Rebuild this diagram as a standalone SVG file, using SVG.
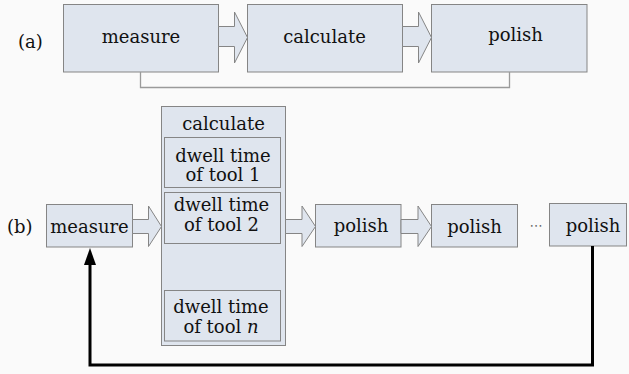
<svg xmlns="http://www.w3.org/2000/svg" width="629" height="374" viewBox="0 0 629 374">
<defs>
<style>
.box{fill:#dfe5ee;stroke:#858585;stroke-width:1}
.inner{fill:#dfe5ee;stroke:#858585;stroke-width:1}
.t{font-family:"DejaVu Serif","Liberation Serif",serif;font-size:18px;fill:#111;text-anchor:middle}
.lbl{font-family:"DejaVu Serif","Liberation Serif",serif;font-size:18px;fill:#111}
.blk{fill:#dfe5ee;stroke:#858585;stroke-width:1;stroke-linejoin:miter}
.br{fill:none;stroke:#9a9a9a;stroke-width:1.3}
.loop{fill:none;stroke:#000;stroke-width:3}
</style>
<marker id="ah" viewBox="0 0 17 12" markerWidth="17" markerHeight="12" refX="2" refY="6" orient="auto" markerUnits="userSpaceOnUse">
<path d="M0,0 L17,6 L0,12 z" fill="#000"/>
</marker>
</defs>
<rect x="0" y="0" width="629" height="374" fill="#fafafa"/>

<text class="lbl" x="18" y="48">(a)</text>
<text class="lbl" x="7" y="232.5">(b)</text>

<g id="a-measure">
<rect class="box" x="63.5" y="4.5" width="155" height="67.5"/>
<text class="t" x="141" y="42.5">measure</text>
</g>
<g id="a-calculate">
<rect class="box" x="247.5" y="4.5" width="155" height="67.5"/>
<text class="t" x="324.5" y="42.5">calculate</text>
</g>
<g id="a-polish">
<rect class="box" x="431.5" y="4.5" width="155.5" height="67.5"/>
<text class="t" x="515.5" y="40.5">polish</text>
</g>

<g id="b-measure">
<rect class="box" x="46.5" y="204.5" width="86" height="42.5"/>
<text class="t" x="89.5" y="232.5">measure</text>
</g>
<g id="b-calculate">
<rect class="box" x="161.5" y="106.5" width="124" height="239"/>
<text class="t" x="223.5" y="130">calculate</text>
<g id="tool1">
<rect class="inner" x="164.5" y="137.5" width="116" height="50"/>
<text class="t" x="223" y="161.5">dwell time</text>
<text class="t" x="223" y="180.5">of tool 1</text>
</g>
<g id="tool2">
<rect class="inner" x="164.5" y="192.5" width="116" height="51"/>
<text class="t" x="221.5" y="211">dwell time</text>
<text class="t" x="221.5" y="231">of tool 2</text>
</g>
<g id="tooln">
<rect class="inner" x="164.5" y="290.5" width="116" height="50.5"/>
<text class="t" x="221" y="312.5">dwell time</text>
<text class="t" x="221" y="332.5">of tool <tspan font-style="italic">n</tspan></text>
</g>
</g>
<g id="b-polish1">
<rect class="box" x="315.5" y="204.5" width="85.5" height="42.5"/>
<text class="t" x="361" y="231.5">polish</text>
</g>
<g id="b-polish2">
<rect class="box" x="431.5" y="204.5" width="86" height="42.5"/>
<text class="t" x="474.5" y="232.5">polish</text>
</g>
<text x="536" y="230" font-family="DejaVu Sans,sans-serif" font-size="13" fill="#666" text-anchor="middle">⋯</text>
<g id="b-polish3">
<rect class="box" x="549.5" y="203.5" width="77" height="42.5"/>
<text class="t" x="593" y="231.5">polish</text>
</g>

<g id="connectors">
<polygon class="blk" points="218.5,26.5 234.5,26.5 234.5,12 247.5,37.5 234.5,63 234.5,46.5 218.5,46.5"/>
<polygon class="blk" points="402.5,26.5 418.5,26.5 418.5,12 431.5,37.5 418.5,63 418.5,46.5 402.5,46.5"/>
<polyline class="br" points="140.5,72 140.5,87.5 509.5,87.5 509.5,72"/>
<polygon class="blk" points="132.5,219.5 148.5,219.5 148.5,206 161.5,226.5 148.5,246.5 148.5,233.5 132.5,233.5"/>
<polygon class="blk" points="285.5,219.5 302,219.5 302,206 315.5,226.5 302,246.5 302,233.5 285.5,233.5"/>
<polygon class="blk" points="401,219.5 418,219.5 418,206 431.5,226.5 418,246.5 418,233.5 401,233.5"/>
<path class="loop" d="M592.5,246 V365 H90 V263" marker-end="url(#ah)"/>
</g>
</svg>
